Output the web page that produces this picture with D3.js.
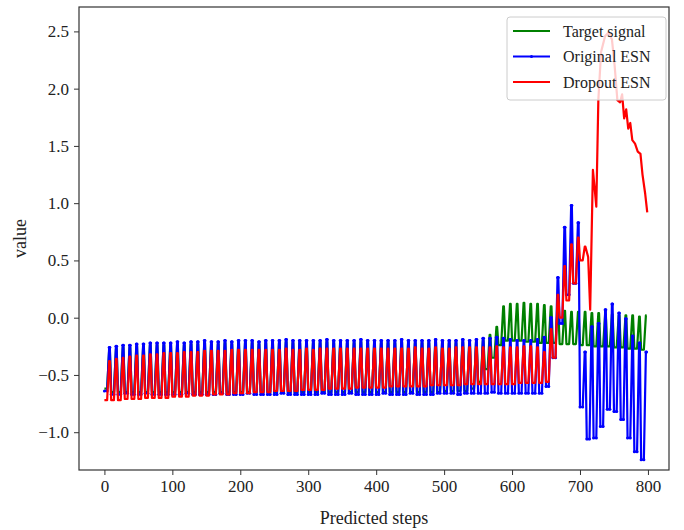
<!DOCTYPE html>
<html>
<head>
<meta charset="utf-8">
<script src="https://cdn.jsdelivr.net/npm/d3@7"></script>
<style>
  body { margin: 0; background: #fff; }
  text { font-family: "Liberation Serif", "Times New Roman", serif; fill: #222; }
</style>
</head>
<body>
<div id="chart"></div>
<script>
// each oscillation lasts ~10 predicted steps, these are the cycle start steps
const cycleSteps = d3.range(0, 800, 10)

const xTicks = [0, 100, 200, 300, 400, 500, 600, 700, 800]
const yTicks = [-1.0, -0.5, 0.0, 0.5, 1.0, 1.5, 2.0, 2.5]

// target signal: peak and trough of every cycle
const targetPeaks = [
  -0.28,-0.27,-0.26,-0.26,-0.25,-0.25,-0.24,-0.24,-0.24,-0.24,
  -0.23,-0.24,-0.23,-0.23,-0.22,-0.23,-0.23,-0.22,-0.23,-0.22,
  -0.22,-0.22,-0.23,-0.22,-0.22,-0.22,-0.21,-0.22,-0.22,-0.22,
  -0.22,-0.22,-0.21,-0.22,-0.22,-0.22,-0.22,-0.21,-0.22,-0.22,
  -0.22,-0.22,-0.22,-0.21,-0.22,-0.22,-0.22,-0.22,-0.21,-0.22,
  -0.22,-0.22,-0.21,-0.22,-0.21,-0.2,-0.15,-0.08,0.1,0.12,
  0.12,0.13,0.12,0.12,0.11,0.1,0.08,0.06,0.05,0.05,
  0.05,0.04,0.04,0.03,0.03,0.02,0.02,0.02,0.01,0.02
]
const targetTroughs = [
  -0.62,-0.65,-0.65,-0.65,-0.65,-0.65,-0.65,-0.65,-0.65,-0.65,
  -0.65,-0.65,-0.65,-0.65,-0.65,-0.65,-0.65,-0.65,-0.65,-0.65,
  -0.65,-0.65,-0.65,-0.65,-0.65,-0.65,-0.65,-0.65,-0.65,-0.65,
  -0.65,-0.65,-0.65,-0.65,-0.65,-0.65,-0.65,-0.65,-0.65,-0.65,
  -0.65,-0.65,-0.65,-0.65,-0.65,-0.65,-0.65,-0.65,-0.65,-0.65,
  -0.64,-0.64,-0.64,-0.64,-0.62,-0.56,-0.45,-0.35,-0.24,-0.2,
  -0.2,-0.2,-0.21,-0.21,-0.22,-0.22,-0.22,-0.23,-0.23,-0.23,
  -0.24,-0.24,-0.25,-0.25,-0.25,-0.26,-0.26,-0.27,-0.27,-0.28
]

// original ESN
const originalPeaks = [
  -0.26,-0.25,-0.24,-0.24,-0.23,-0.23,-0.22,-0.22,-0.22,-0.22,
  -0.21,-0.22,-0.21,-0.21,-0.2,-0.21,-0.21,-0.2,-0.21,-0.2,
  -0.2,-0.2,-0.21,-0.2,-0.2,-0.2,-0.19,-0.2,-0.2,-0.2,
  -0.2,-0.2,-0.19,-0.2,-0.2,-0.2,-0.2,-0.19,-0.2,-0.2,
  -0.2,-0.2,-0.2,-0.19,-0.2,-0.2,-0.2,-0.2,-0.19,-0.2,
  -0.2,-0.2,-0.19,-0.2,-0.19,-0.18,-0.18,-0.17,-0.18,-0.19,
  -0.2,-0.2,-0.2,-0.19,-0.17,0.0,0.35,0.79,0.98,0.83,
  -0.3,-0.08,-0.05,0.07,0.12,0.04,-0.01,-0.16,-0.22,-0.3
]
const originalTroughs = [
  -0.64,-0.67,-0.67,-0.66,-0.67,-0.67,-0.66,-0.67,-0.67,-0.67,
  -0.67,-0.67,-0.66,-0.67,-0.67,-0.67,-0.67,-0.66,-0.67,-0.67,
  -0.67,-0.66,-0.67,-0.67,-0.67,-0.67,-0.66,-0.67,-0.67,-0.67,
  -0.67,-0.67,-0.66,-0.67,-0.67,-0.67,-0.66,-0.67,-0.67,-0.67,
  -0.67,-0.66,-0.67,-0.67,-0.67,-0.66,-0.67,-0.67,-0.67,-0.66,
  -0.66,-0.66,-0.67,-0.66,-0.66,-0.66,-0.66,-0.65,-0.66,-0.66,
  -0.66,-0.66,-0.66,-0.66,-0.66,-0.6,-0.35,-0.05,0.2,0.3,
  -0.78,-1.06,-1.05,-0.95,-0.8,-0.82,-0.89,-1.05,-1.17,-1.24
]

// dropout ESN, cycles up to step 710 and then its free run
const dropoutPeaks = [
  -0.38,-0.36,-0.35,-0.34,-0.33,-0.33,-0.32,-0.32,-0.31,-0.31,
  -0.31,-0.3,-0.3,-0.3,-0.29,-0.29,-0.29,-0.29,-0.28,-0.28,
  -0.28,-0.28,-0.28,-0.28,-0.28,-0.28,-0.27,-0.28,-0.28,-0.27,
  -0.28,-0.27,-0.27,-0.27,-0.27,-0.27,-0.27,-0.27,-0.27,-0.27,
  -0.27,-0.27,-0.27,-0.27,-0.27,-0.26,-0.27,-0.27,-0.26,-0.27,
  -0.27,-0.26,-0.26,-0.26,-0.26,-0.26,-0.26,-0.25,-0.26,-0.26,
  -0.26,-0.25,-0.25,-0.26,-0.3,-0.1,0.2,0.45,0.64,0.7,
  0.62
]
const dropoutTroughs = [
  -0.72,-0.72,-0.72,-0.71,-0.71,-0.71,-0.7,-0.7,-0.7,-0.7,
  -0.69,-0.69,-0.69,-0.68,-0.68,-0.68,-0.67,-0.67,-0.67,-0.66,
  -0.66,-0.66,-0.65,-0.65,-0.65,-0.64,-0.64,-0.64,-0.64,-0.63,
  -0.63,-0.63,-0.63,-0.62,-0.62,-0.62,-0.62,-0.61,-0.61,-0.61,
  -0.61,-0.61,-0.6,-0.6,-0.6,-0.6,-0.6,-0.6,-0.59,-0.59,
  -0.59,-0.59,-0.59,-0.58,-0.58,-0.58,-0.58,-0.58,-0.58,-0.58,
  -0.58,-0.57,-0.57,-0.57,-0.57,-0.56,-0.35,0.0,0.15,0.3,
  0.5
]
const dropoutTailSteps = [712, 715, 719, 722, 724, 727, 731, 737, 742, 747, 751, 755, 759,
  762, 765, 768, 771, 774, 777, 781, 785, 789, 792, 796, 799]
const dropoutTailValues = [0.53, 0.07, 1.29, 1.1, 0.97, 1.9, 2.32, 2.46, 2.49, 2.43, 2.2, 1.9, 1.88,
  1.95, 1.74, 1.82, 1.65, 1.7, 1.55, 1.52, 1.45, 1.43, 1.25, 1.08, 0.92]

const seriesNames = ["Target signal", "Original ESN", "Dropout ESN"]
const seriesColors = ["#008000", "#0000ff", "#ff0000"]

// within a cycle: hold at the trough, slanted rise, brief top, quick fall into the next cycle
const cycleShape = [0, 4, 7, 8]

const toPoints = (peaks, troughs) => {
  const pts = []
  peaks.forEach((p, i) => {
    const s = cycleSteps[i]
    pts.push({x: s + cycleShape[0], value: troughs[i]})
    pts.push({x: s + cycleShape[1], value: troughs[i]})
    pts.push({x: s + cycleShape[2], value: p})
    pts.push({x: s + cycleShape[3], value: p})
  })
  return pts
}

const data = [
  {key: 0, values: toPoints(targetPeaks, targetTroughs)},
  {key: 1, values: toPoints(originalPeaks, originalTroughs)},
  {key: 2, values: toPoints(dropoutPeaks, dropoutTroughs)
      .concat(dropoutTailSteps.map((s, i) => ({x: s, value: dropoutTailValues[i]})))}
]

const width = 684, height = 530
const conf = {ml: 79, mr: 15, mt: 7, mb: 60}

const svg = d3.select("#chart").append("svg")
  .attr("width", width)
  .attr("height", height)
  .attr("viewBox", [0, 0, width, height])

const xAxis = d3.scaleLinear().domain([-37.4, 831]).range([conf.ml, width - conf.mr])
const yAxis = d3.scaleLinear().domain([-1.33, 2.713]).range([height - conf.mb, conf.mt])

svg.append("defs").append("clipPath").attr("id", "clip")
  .append("rect")
    .attr("x", conf.ml).attr("y", conf.mt)
    .attr("width", width - conf.mr - conf.ml)
    .attr("height", height - conf.mb - conf.mt)

const line = d3.line().x(d => xAxis(d.x)).y(d => yAxis(d.value))

const plot = svg.append("g").attr("clip-path", "url(#clip)")
plot.selectAll(".line")
  .data(data.slice(0, 2))
  .enter()
  .append("path")
    .attr("class", "line")
    .attr("fill", "none")
    .attr("stroke", d => seriesColors[d.key])
    .attr("stroke-width", 2.2)
    .attr("stroke-linejoin", "round")
    .attr("d", d => line(d.values))

// the original ESN is plotted with small point markers
plot.selectAll(".dot")
  .data(data[1].values)
  .enter()
  .append("circle")
    .attr("cx", d => xAxis(d.x))
    .attr("cy", d => yAxis(d.value))
    .attr("r", 1.5)
    .attr("fill", seriesColors[1])

plot.append("path")
  .attr("fill", "none")
  .attr("stroke", seriesColors[2])
  .attr("stroke-width", 2.2)
  .attr("stroke-linejoin", "round")
  .attr("d", line(data[2].values))

// axes
const gx = svg.append("g")
  .attr("transform", `translate(0,${height - conf.mb})`)
  .call(d3.axisBottom(xAxis).tickValues(xTicks).tickSize(5).tickPadding(5))
const gy = svg.append("g")
  .attr("transform", `translate(${conf.ml},0)`)
  .call(d3.axisLeft(yAxis).tickValues(yTicks).tickSize(5).tickPadding(5))
;[gx, gy].forEach(g => {
  g.attr("font-family", null)
  g.select(".domain").remove()
  g.selectAll(".tick line").attr("stroke", "#333")
  g.selectAll(".tick text")
    .style("font-family", '"Liberation Serif", "Times New Roman", serif')
    .style("font-size", "17px")
    .attr("fill", "#222")
})
gy.selectAll(".tick text").text(d => d3.format(".1f")(d).replace("-", "\u2212"))

svg.append("rect")
  .attr("x", conf.ml).attr("y", conf.mt)
  .attr("width", width - conf.mr - conf.ml)
  .attr("height", height - conf.mb - conf.mt)
  .attr("fill", "none")
  .attr("stroke", "#333")
  .attr("stroke-width", 1.2)

svg.append("text")
  .attr("x", (conf.ml + width - conf.mr) / 2)
  .attr("y", height - 6)
  .attr("text-anchor", "middle")
  .attr("font-size", 18)
  .text("Predicted steps")

svg.append("text")
  .attr("transform", `translate(26,${(conf.mt + height - conf.mb) / 2}) rotate(-90)`)
  .attr("text-anchor", "middle")
  .attr("font-size", 18)
  .text("value")

// legend
const legend = svg.append("g").attr("transform", "translate(507,17)")
legend.append("rect")
  .attr("width", 159).attr("height", 83)
  .attr("rx", 3)
  .attr("fill", "#fff").attr("fill-opacity", 0.8)
  .attr("stroke", "#ccc")
const items = legend.selectAll(".item")
  .data(seriesNames)
  .enter()
  .append("g")
    .attr("transform", (d, i) => `translate(0,${14 + i * 25.5})`)
items.append("line")
  .attr("x1", 6).attr("x2", 43)
  .attr("stroke", (d, i) => seriesColors[i])
  .attr("stroke-width", 2.2)
items.filter((d, i) => i === 1).append("circle")
  .attr("cx", 24.5).attr("r", 1.5).attr("fill", seriesColors[1])
items.append("text")
  .attr("x", 56)
  .attr("dy", "0.35em")
  .attr("font-size", 16)
  .text(d => d)
</script>
</body>
</html>
